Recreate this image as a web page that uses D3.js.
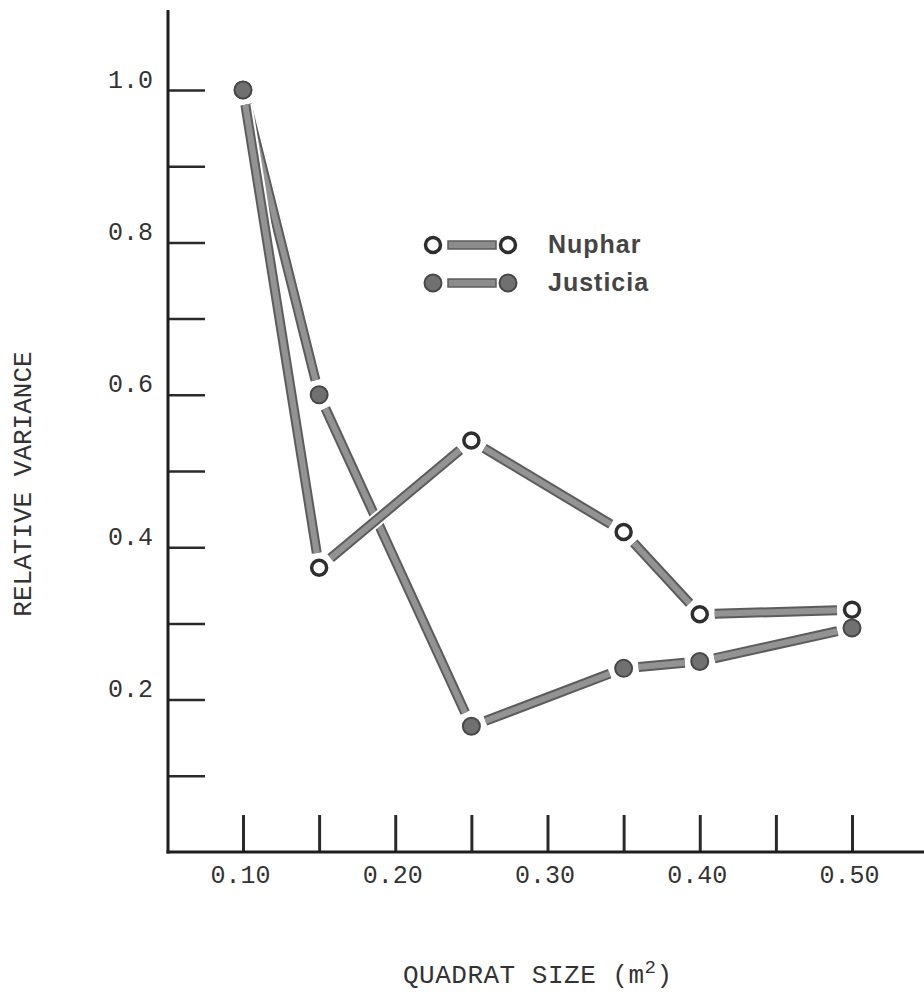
<!DOCTYPE html>
<html>
<head>
<meta charset="utf-8">
<script src="https://cdn.jsdelivr.net/npm/d3@7"></script>
<style>
  body { margin: 0; background: #fff; }
  svg { display: block; }
</style>
</head>
<body>
<div id="chart"></div>
<script>
// quadrat sizes (m2) sampled
var quadratSizes = [0.10, 0.15, 0.25, 0.35, 0.40, 0.50];
// relative variance
var nupharValues = [1.00, 0.373, 0.540, 0.420, 0.312, 0.318];
var justiciaValues = [1.00, 0.600, 0.165, 0.241, 0.250, 0.294];

var xTickValues = [0.10, 0.15, 0.20, 0.25, 0.30, 0.35, 0.40, 0.45, 0.50];
var xTickLabels = ["0.10", "0.20", "0.30", "0.40", "0.50"];
var yTickValues = [0.1, 0.2, 0.3, 0.4, 0.5, 0.6, 0.7, 0.8, 0.9, 1.0];
var yTickLabels = ["0.2", "0.4", "0.6", "0.8", "1.0"];

var seriesNames = ["Nuphar", "Justicia"];

function lineChart() {

    var mono = "'Liberation Mono', 'DejaVu Sans Mono', monospace";
    var gap = 15;

    var width = 924, height = 996;
    var x = d3.scaleLinear().domain([0.10, 0.50]).range([243, 852]);
    var y = d3.scaleLinear().domain([0, 1]).range([852, 90]);
    var axisLeft = 168, axisBottom = 852;

    function segments(values) {
	var pts = quadratSizes.map(function(q, i) { return [x(q), y(values[i])]; });
	var out = [];
	for (var i = 0; i < pts.length - 1; i++) {
	    var a = pts[i], b = pts[i + 1];
	    var dx = b[0] - a[0], dy = b[1] - a[1];
	    var len = Math.sqrt(dx * dx + dy * dy);
	    var ux = dx / len, uy = dy / len;
	    out.push([[a[0] + ux * gap, a[1] + uy * gap],
		      [b[0] - ux * gap, b[1] - uy * gap]]);
	}
	return out;
    }

    var svg = d3.select('#chart').append('svg')
	.attr('width', width)
	.attr('height', height);

    // y axis: ticks point inward
    var yAxis = d3.axisLeft(y)
	.tickValues(yTickValues)
	.tickSize(-37)
	.tickPadding(15)
	.tickFormat(function(d) {
	    var s = d3.format('.1f')(d);
	    return yTickLabels.indexOf(s) >= 0 ? s : '';
	});

    var gy = svg.append('g')
	.attr('transform', 'translate(' + axisLeft + ',0)')
	.call(yAxis);
    gy.select('.domain').remove();
    gy.selectAll('.tick line').attr('stroke', '#2a2a2a').attr('stroke-width', 2.5);
    gy.selectAll('.tick text')
	.attr('font-family', mono)
	.attr('font-size', 25)
	.attr('fill', '#333')
	.attr('dy', '-0.12em');

    svg.append('line')
	.attr('x1', axisLeft).attr('x2', axisLeft)
	.attr('y1', 10).attr('y2', axisBottom + 1.5)
	.attr('stroke', '#1e1e1e').attr('stroke-width', 3);

    // x axis: ticks point upward
    var xAxis = d3.axisBottom(x)
	.tickValues(xTickValues)
	.tickSize(-37)
	.tickPadding(22)
	.tickFormat(function(d) {
	    var s = d3.format('.2f')(d);
	    return xTickLabels.indexOf(s) >= 0 ? s : '';
	});

    var gx = svg.append('g')
	.attr('transform', 'translate(0,' + axisBottom + ')')
	.call(xAxis);
    gx.select('.domain').remove();
    gx.selectAll('.tick line').attr('stroke', '#2a2a2a').attr('stroke-width', 3);
    gx.selectAll('.tick text')
	.attr('font-family', mono)
	.attr('font-size', 25)
	.attr('fill', '#333')
	.attr('dy', '0.35em')
	.attr('dx', -3);

    svg.append('line')
	.attr('x1', axisLeft - 1.5).attr('x2', width)
	.attr('y1', axisBottom).attr('y2', axisBottom)
	.attr('stroke', '#1e1e1e').attr('stroke-width', 3);

    // axis titles
    svg.append('text')
	.attr('transform', 'translate(31,484) rotate(-90)')
	.attr('text-anchor', 'middle')
	.attr('font-family', mono)
	.attr('font-size', 26)
	.attr('fill', '#333')
	.text('RELATIVE VARIANCE');

    var xt = svg.append('text')
	.attr('x', 403)
	.attr('y', 983)
	.attr('font-family', mono)
	.attr('font-size', 26)
	.attr('letter-spacing', 0.5)
	.attr('fill', '#333');
    xt.append('tspan').text('QUADRAT SIZE (m');
    xt.append('tspan').attr('font-size', 19).attr('dy', -10).text('2');
    xt.append('tspan').attr('dy', 10).text(')');

    // line bands
    function drawBands(values, halo) {
	var g = svg.append('g');
	var segs = segments(values);
	if (halo) {
	    g.selectAll('line.halo').data(segs).enter().append('line')
		.classed('halo', true)
		.attr('x1', function(d) { return d[0][0]; })
		.attr('y1', function(d) { return d[0][1]; })
		.attr('x2', function(d) { return d[1][0]; })
		.attr('y2', function(d) { return d[1][1]; })
		.attr('stroke', '#fff').attr('stroke-width', 14);
	}
	g.selectAll('line.outer').data(segs).enter().append('line')
	    .classed('outer', true)
	    .attr('x1', function(d) { return d[0][0]; })
	    .attr('y1', function(d) { return d[0][1]; })
	    .attr('x2', function(d) { return d[1][0]; })
	    .attr('y2', function(d) { return d[1][1]; })
	    .attr('stroke', '#5c5c5c').attr('stroke-width', 10);
	g.selectAll('line.inner').data(segs).enter().append('line')
	    .classed('inner', true)
	    .attr('x1', function(d) { return d[0][0]; })
	    .attr('y1', function(d) { return d[0][1]; })
	    .attr('x2', function(d) { return d[1][0]; })
	    .attr('y2', function(d) { return d[1][1]; })
	    .attr('stroke', '#939393').attr('stroke-width', 6);
    }

    drawBands(justiciaValues, false);
    drawBands(nupharValues, true);

    // markers
    svg.append('g').selectAll('circle')
	.data(nupharValues).enter().append('circle')
	.attr('cx', function(d, i) { return x(quadratSizes[i]); })
	.attr('cy', function(d) { return y(d); })
	.attr('r', 7.5)
	.attr('fill', '#fff')
	.attr('stroke', '#2e2e2e')
	.attr('stroke-width', 3.5);

    svg.append('g').selectAll('circle')
	.data(justiciaValues).enter().append('circle')
	.attr('cx', function(d, i) { return x(quadratSizes[i]); })
	.attr('cy', function(d) { return y(d); })
	.attr('r', 8.5)
	.attr('fill', '#707070')
	.attr('stroke', '#484848')
	.attr('stroke-width', 2);

    // legend
    var legend = svg.append('g').selectAll('g.item')
	.data(seriesNames).enter().append('g')
	.classed('item', true)
	.attr('transform', function(d, i) { return 'translate(0,' + (245 + i * 38) + ')'; });

    legend.append('rect')
	.attr('x', 448).attr('y', -4).attr('width', 48).attr('height', 8)
	.attr('fill', '#8c8c8c').attr('stroke', '#5c5c5c').attr('stroke-width', 1.5);

    [433, 508].forEach(function(cx) {
	legend.append('circle')
	    .attr('cx', cx).attr('cy', 0)
	    .attr('r', function(d, i) { return i === 0 ? 7.5 : 8.5; })
	    .attr('fill', function(d, i) { return i === 0 ? '#fff' : '#707070'; })
	    .attr('stroke', function(d, i) { return i === 0 ? '#2e2e2e' : '#484848'; })
	    .attr('stroke-width', function(d, i) { return i === 0 ? 3.5 : 2; });
    });

    legend.append('text')
	.attr('x', 548).attr('y', 8)
	.attr('font-family', "'Liberation Sans', Arial, sans-serif")
	.attr('font-weight', 'bold')
	.attr('font-size', 25)
	.attr('letter-spacing', 1)
	.attr('fill', '#454545')
	.text(function(d) { return d; });
}

lineChart();
</script>
</body>
</html>
